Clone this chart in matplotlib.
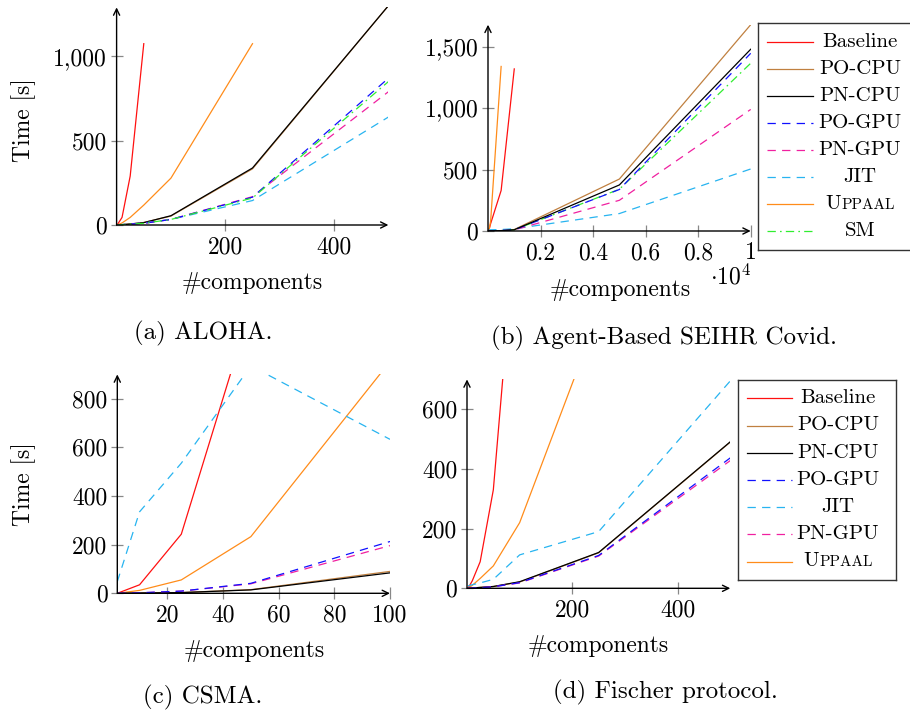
import matplotlib
matplotlib.use('Agg')
import matplotlib.pyplot as plt
from matplotlib.ticker import FixedLocator, FuncFormatter
from matplotlib.offsetbox import TextArea, HPacker, AnnotationBbox

plt.rcParams['font.family'] = ['cmr10', 'DejaVu Serif']
plt.rcParams['mathtext.fontset'] = 'cm'
plt.rcParams['axes.formatter.use_mathtext'] = True
plt.rcParams['lines.scale_dashes'] = False

W, H = 910, 718

# ---- data ----
# (a) ALOHA
aloha_n = [1, 10, 25, 50, 100, 250, 500]
aloha_baseline = [0, 45, 290, 1075]
aloha_uppaal = [0, 12, 45, 118, 278, 1075]
aloha_po_cpu = [0, 2, 6, 15, 53, 333, 1300]
aloha_pn_cpu = [0, 2, 6, 14, 55, 338, 1300]
aloha_po_gpu = [0, 2, 5, 10, 33, 165, 870]
aloha_pn_gpu = [0, 2, 5, 10, 33, 168, 790]
aloha_jit = [0, 3, 6, 12, 33, 145, 640]
aloha_sm = [0, 2, 5, 10, 33, 160, 850]

# (b) Agent-based SEIHR covid
covid_n = [10, 50, 100, 500, 1000, 5000, 10000]
covid_baseline = [0, 20, 60, 330, 1320]
covid_uppaal = [0, 20, 80, 1340]
covid_po_cpu = [0, 0, 1, 3, 12, 423, 1680]
covid_pn_cpu = [0, 0, 1, 3, 10, 375, 1480]
covid_po_gpu = [0, 0, 1, 3, 10, 338, 1447]
covid_pn_gpu = [0, 0, 1, 3, 9, 250, 990]
covid_jit = [5, 8, 10, 12, 18, 142, 505]
covid_sm = [0, 0, 1, 3, 10, 340, 1366]

# (c) CSMA
csma_n = [2, 10, 25, 50, 100]
csma_baseline = [0, 35, 243, 1175]
csma_uppaal = [0, 12, 55, 233, 953]
csma_po_cpu = [0, 1, 3, 15, 90]
csma_pn_cpu = [0, 1, 3, 14, 84]
csma_po_gpu = [0, 2, 9, 41, 213]
csma_pn_gpu = [0, 2, 9, 39, 196]
csma_jit = [48, 335, 535, 935, 633]

# (d) Fischer
fischer_n = [2, 10, 25, 50, 100, 250, 500]
fischer_baseline = [0, 25, 89, 330, 1370]
fischer_uppaal = [0, 10, 33, 75, 220, 920]
fischer_po_cpu = [0, 1, 3, 6, 21, 119, 490]
fischer_pn_cpu = [0, 1, 3, 6, 22, 120, 491]
fischer_po_gpu = [0, 1, 2, 5, 19, 110, 437]
fischer_pn_gpu = [0, 1, 2, 5, 18, 108, 428]
fischer_jit = [8, 12, 18, 30, 112, 190, 695]

# ---- styles ----
DASH = (0, (6, 4.5))
DASHDOT = (0, (6, 3, 1.2, 3))
styles = {
    'Baseline': dict(color='#ff1010', ls='-'),
    'PO-CPU': dict(color='#c08040', ls='-'),
    'PN-CPU': dict(color='black', ls='-'),
    'PO-GPU': dict(color='#1010ff', ls=DASH),
    'PN-GPU': dict(color='#f020a0', ls=DASH),
    'JIT': dict(color='#28b4f0', ls=DASH),
    'Uppaal': dict(color='#ff8c1a', ls='-'),
    'SM': dict(color='#30ee30', ls=DASHDOT),
}
LW = 0.9
FS = 17


def px_axes(fig, l, r, b, t):
    return fig.add_axes([l / W, 1 - b / H, (r - l) / W, (b - t) / H])


def style_axes(ax, xlim, ylim, xticks, yticks, xfmt, yfmt):
    ax.set_xlim(*xlim)
    ax.set_ylim(*ylim)
    for s in ax.spines.values():
        s.set_visible(False)
    ax.xaxis.set_major_locator(FixedLocator(xticks))
    ax.yaxis.set_major_locator(FixedLocator(yticks))
    ax.xaxis.set_major_formatter(FuncFormatter(xfmt))
    ax.yaxis.set_major_formatter(FuncFormatter(yfmt))
    ax.tick_params(direction='inout', length=8, width=0.9, color='#888888',
                   labelsize=FS, pad=3)
    ax.tick_params(axis='x', pad=4)
    ax.patch.set_alpha(0)
    arrow = dict(arrowstyle='->,head_length=0.45,head_width=0.22', lw=1.0,
                 color='black', shrinkA=0, shrinkB=0)
    ax.annotate('', xy=(1.0, 0), xytext=(0, 0), xycoords='axes fraction',
                arrowprops=arrow, zorder=5)
    ax.annotate('', xy=(0, 1.0), xytext=(0, 0), xycoords='axes fraction',
                arrowprops=arrow, zorder=5)


def plot_series(ax, n, series):
    for name, vals in series:
        st = styles[name]
        ax.plot(n[:len(vals)], vals, color=st['color'], linestyle=st['ls'],
                lw=LW, zorder=3)


def draw_legend(fig, l, r, t, b, names, line_x0, line_x1, text_x, row0, step):
    lax = px_axes(fig, l, r, b, t)
    lax.set_xlim(l, r)
    lax.set_ylim(b, t)
    lax.set_xticks([])
    lax.set_yticks([])
    for s in lax.spines.values():
        s.set_linewidth(1.0)
        s.set_color('#333333')
    for i, name in enumerate(names):
        y = row0 + i * step
        st = styles[name]
        lax.plot([line_x0, line_x1], [y, y], color=st['color'],
                 linestyle=st['ls'], lw=LW)
        if name == 'Uppaal':
            box = HPacker(children=[TextArea('U', textprops=dict(size=15)),
                                    TextArea('PPAAL', textprops=dict(size=11))],
                          align='baseline', pad=0, sep=0)
            ab = AnnotationBbox(box, (text_x, y), frameon=False,
                                box_alignment=(0.5, 0.5))
            lax.add_artist(ab)
        else:
            lax.text(text_x, y, name, ha='center', va='center', fontsize=15)


def ftext(fig, x, y, s, **kw):
    fig.text(x / W, 1 - y / H, s, **kw)


thousands = lambda v, p: '{:,.0f}'.format(v)
plain = lambda v, p: '{:.0f}'.format(v)

fig = plt.figure(figsize=(W / 100, H / 100), dpi=100)

# (a)
ax = px_axes(fig, 116.6, 388.4, 225, 7.4)
plot_series(ax, aloha_n, [('Baseline', aloha_baseline), ('Uppaal', aloha_uppaal),
                          ('PO-CPU', aloha_po_cpu), ('PN-CPU', aloha_pn_cpu),
                          ('JIT', aloha_jit), ('PN-GPU', aloha_pn_gpu),
                          ('PO-GPU', aloha_po_gpu), ('SM', aloha_sm)])
style_axes(ax, (0, 500), (0, 1290), [200, 400], [0, 500, 1000], plain, thousands)
ftext(fig, 24, 120, 'Time [s]', rotation=90, ha='center', va='center', fontsize=FS)
ftext(fig, 252, 283, '#components', ha='center', va='center', fontsize=FS)
ftext(fig, 203, 333, '(a) ALOHA.', ha='center', va='center', fontsize=18)

# (b)
ax = px_axes(fig, 488, 750.7, 231, 24.7)
plot_series(ax, covid_n, [('Baseline', covid_baseline), ('Uppaal', covid_uppaal),
                          ('PO-CPU', covid_po_cpu), ('JIT', covid_jit),
                          ('PN-GPU', covid_pn_gpu), ('SM', covid_sm),
                          ('PO-GPU', covid_po_gpu), ('PN-CPU', covid_pn_cpu)])
style_axes(ax, (0, 10000), (0, 1680), [2000, 4000, 6000, 8000, 10000],
           [0, 500, 1000, 1500], lambda v, p: '{:g}'.format(v / 1e4), thousands)
ftext(fig, 620, 290, '#components', ha='center', va='center', fontsize=FS)
ftext(fig, 731, 277, r'$\cdot 10^4$', ha='center', va='center', fontsize=FS)
ftext(fig, 664, 338, '(b) Agent-Based SEIHR Covid.', ha='center', va='center',
      fontsize=18)
draw_legend(fig, 758, 914, 23, 250,
            ['Baseline', 'PO-CPU', 'PN-CPU', 'PO-GPU', 'PN-GPU', 'JIT', 'Uppaal', 'SM'],
            767, 813, 860, 41.7, 27.0)

# (c)
ax = px_axes(fig, 117.3, 390, 593.3, 374.4)
plot_series(ax, csma_n, [('Baseline', csma_baseline), ('Uppaal', csma_uppaal),
                         ('JIT', csma_jit), ('PO-CPU', csma_po_cpu),
                         ('PN-CPU', csma_pn_cpu), ('PN-GPU', csma_pn_gpu),
                         ('PO-GPU', csma_po_gpu)])
style_axes(ax, (2, 100), (0, 900), [20, 40, 60, 80, 100], [0, 200, 400, 600, 800],
           plain, plain)
ftext(fig, 24, 484, 'Time [s]', rotation=90, ha='center', va='center', fontsize=FS)
ftext(fig, 254, 651, '#components', ha='center', va='center', fontsize=FS)
ftext(fig, 203, 697, '(c) CSMA.', ha='center', va='center', fontsize=18)

# (d)
ax = px_axes(fig, 467, 730.3, 588.3, 379.4)
plot_series(ax, fischer_n, [('Baseline', fischer_baseline), ('Uppaal', fischer_uppaal),
                            ('JIT', fischer_jit), ('PO-CPU', fischer_po_cpu),
                            ('PN-CPU', fischer_pn_cpu), ('PN-GPU', fischer_pn_gpu),
                            ('PO-GPU', fischer_po_gpu)])
style_axes(ax, (0, 500), (0, 700), [200, 400], [0, 200, 400, 600], plain, plain)
ftext(fig, 598, 646, '#components', ha='center', va='center', fontsize=FS)
ftext(fig, 665, 692, '(d) Fischer protocol.', ha='center', va='center', fontsize=18)
draw_legend(fig, 738, 896, 380, 580,
            ['Baseline', 'PO-CPU', 'PN-CPU', 'PO-GPU', 'JIT', 'PN-GPU', 'Uppaal'],
            747, 792, 838, 398.3, 27.2)

fig.savefig('out.png', dpi=100)
